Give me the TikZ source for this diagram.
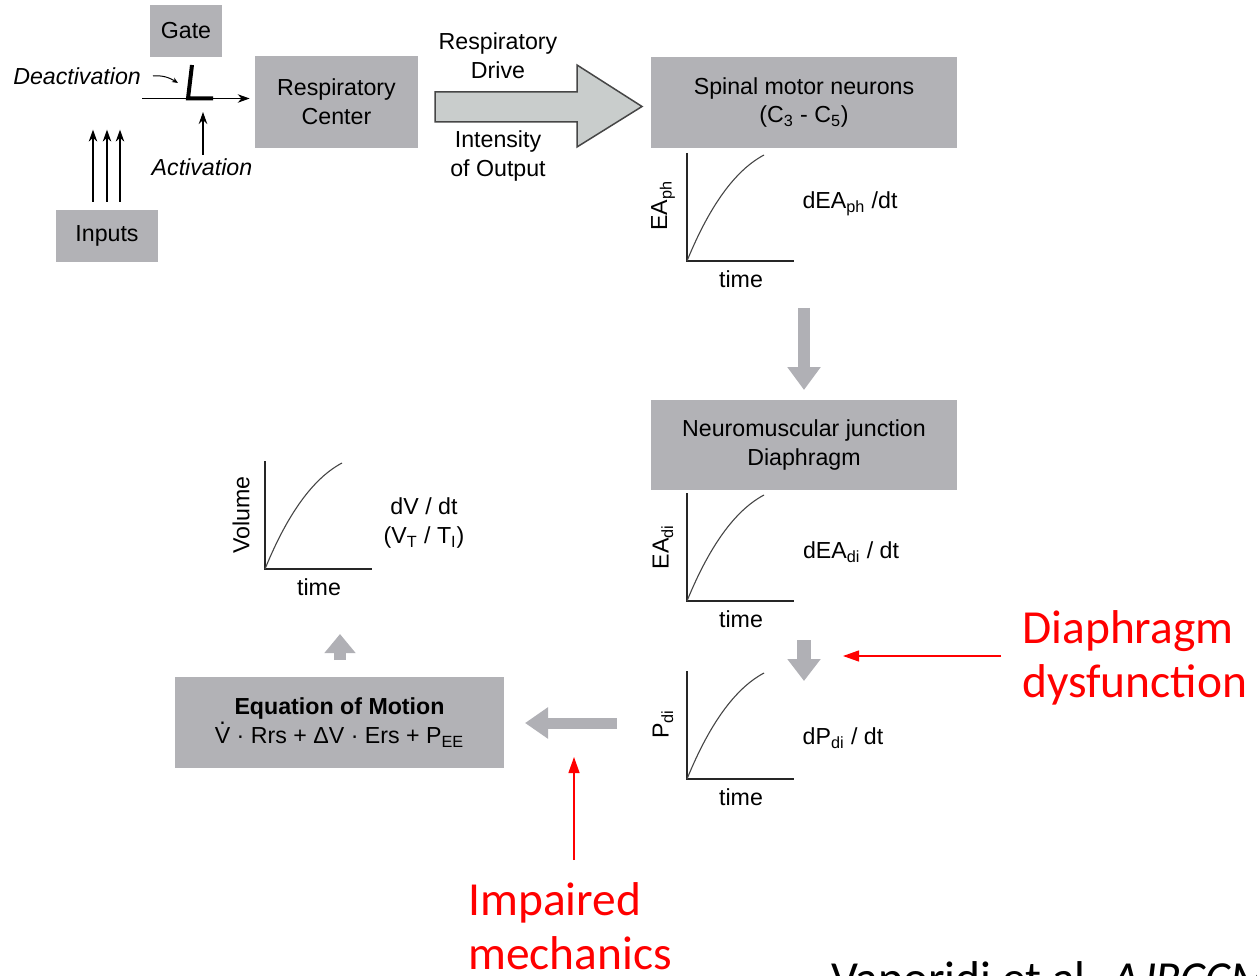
\documentclass[tikz,border=0pt]{standalone}
\usepackage{fontspec}
\setmainfont{Liberation Sans}
\newfontfamily\calibri{Carlito}
\usetikzlibrary{arrows.meta}
\definecolor{boxgray}{RGB}{178,178,182}
\definecolor{arrowgray}{RGB}{176,176,181}
\definecolor{drivefill}{RGB}{201,205,204}
\definecolor{inkgray}{RGB}{70,70,70}
\newcommand{\Vdot}{\ooalign{V\cr\hidewidth\raisebox{0.8em}{.}\hidewidth\cr}}
\begin{document}
\begin{tikzpicture}[x=0.02cm,y=-0.02cm,
  every node/.style={font=\fontsize{13.2}{16.4}\selectfont},
  grayblock/.style={fill=boxgray, inner sep=0pt, align=center},
  note/.style={align=center, inner sep=1pt},
  axis/.style={line width=0.025cm, draw=black!85},
  curve/.style={line width=0.022cm, draw=inkgray},
  thinarrow/.style={-{Stealth[length=0.24cm,width=0.17cm]}, line width=0.022cm},
  blockarrow/.style={draw=arrowgray, line width=0.24cm, -{Triangle[length=0.46cm,width=0.64cm]}},
  redarrow/.style={draw=red, line width=0.025cm, -{Triangle[length=0.32cm,width=0.22cm]}},
  redlabel/.style={text=red, align=left, font=\calibri\fontsize{27}{31}\selectfont, inner sep=0pt}]
\useasboundingbox (0,0) rectangle (1257,976);

% boxes
\node[grayblock, minimum width=1.44cm, minimum height=1.04cm] (gate) at (186,31) {Gate};
\node[grayblock, minimum width=2.04cm, minimum height=1.04cm] (inp) at (107,236) {Inputs};
\node[grayblock, minimum width=3.26cm, minimum height=1.84cm] (rc) at (336.5,102) {Respiratory\\Center};
\node[grayblock, minimum width=6.12cm, minimum height=1.82cm] (smn) at (804,102.5) {Spinal motor neurons\\(C\textsubscript{3} - C\textsubscript{5})};
\node[grayblock, minimum width=6.12cm, minimum height=1.80cm] (nmj) at (804,445) {Neuromuscular junction\\Diaphragm};
\node[grayblock, minimum width=6.58cm, minimum height=1.82cm] (eom) at (339.5,722.5) {\textbf{Equation of Motion}\\\Vdot{} · Rrs + ΔV · Ers + P\textsubscript{EE}};

% gate
\node[note, anchor=east, font=\itshape\fontsize{13.2}{16.4}\selectfont] (deact) at (143,76) {Deactivation};
\node[note, font=\itshape\fontsize{13.2}{16.4}\selectfont] (act) at (202,167) {Activation};
\coordinate (gin) at (142,98.5);
\coordinate (actfoot) at (203,155);
\coordinate (acttip) at (203,112);
\draw[line width=0.08cm] (192,65) -- (188,98.5) -- (213,98.5);
\draw[thinarrow, shorten >=0.1cm] (gin) -- (rc.west |- gin);
\draw[thinarrow] (actfoot) -- (acttip);
\draw[-{Stealth[length=0.12cm,width=0.1cm]}, line width=0.02cm]
  ([xshift=0.2cm]deact.east) .. controls (163,75) and (170,78) .. (178,83);
\foreach \dx in {-14,0,13}
  \draw[thinarrow] ([xshift=\dx*0.02cm, yshift=0.16cm]inp.north) -- ++(0,-72);

% respiratory drive
\draw[fill=drivefill, draw=inkgray, line width=0.03cm]
  (435,92) -- (577,92) -- (577,65) -- (642,106.5) -- (577,147) -- (577,122) -- (435,122) -- cycle;
\node[note] (drive) at (498,55.5) {Respiratory\\Drive};
\node[note] (intens) at (498,156) {Intensity\\of Output};

% graphs
\foreach \cx/\cy/\nm in {687/261/ph, 687/601/di, 687/779/pdi, 265/569/vol} {
  \coordinate (o\nm) at (\cx,\cy);
  \draw[axis] (\cx,\cy-108) -- (o\nm) -- (\cx+107,\cy);
  \draw[curve] (o\nm) .. controls (\cx+18,\cy-44) and (\cx+43,\cy-88) .. (\cx+77,\cy-106);
  \node (t\nm) at (\cx+54,\cy+18) {time};
}
\node[rotate=90] (yph) at (663,206) {EA\textsubscript{ph}};
\node[rotate=90] (ydi) at (663,547) {EA\textsubscript{di}};
\node[rotate=90] (ypdi) at (663,724) {P\textsubscript{di}};
\node[rotate=90] (yvol) at (241,515) {Volume};
\node (rph) at (850,204) {dEA\textsubscript{ph} /dt};
\node (rdi) at (851,552) {dEA\textsubscript{di} / dt};
\node (rpdi) at (843,738) {dP\textsubscript{di} / dt};
\node[align=center] (rvol) at (424,523) {dV / dt\\(V\textsubscript{T} / T\textsubscript{I})};

% flow arrows
\coordinate (a1s) at (804,308); \coordinate (a1e) at (804,390);
\coordinate (a2s) at (804,640); \coordinate (a2e) at (804,681);
\coordinate (a3s) at (617,723); \coordinate (a3e) at (525,723);
\coordinate (a4s) at (340,660); \coordinate (a4e) at (340,634);
\draw[blockarrow] (a1s) -- (a1e);
\draw[blockarrow, line width=0.27cm, -{Triangle[length=0.44cm,width=0.64cm]}] (a2s) -- (a2e);
\draw[blockarrow, line width=0.22cm, -{Triangle[length=0.46cm,width=0.60cm]}] (a3s) -- (a3e);
\draw[blockarrow, line width=0.24cm, -{Triangle[length=0.38cm,width=0.60cm]}] (a4s) -- (a4e);

% annotations
\node[redlabel, anchor=north west] (dys) at (1022,610) {Diaphragm\\dysfunction};
\node[redlabel, anchor=north west] (imp) at (468,882) {Impaired\\mechanics};
\coordinate (dystip) at (843,656);
\coordinate (imptip) at (574,757);
\draw[redarrow] (1001,656) -- (dystip);
\draw[redarrow] (574,860) -- (imptip);
\node[anchor=base west, inner sep=0pt, font=\calibri\fontsize{27}{31}\selectfont] (cite) at (831,994) {Vaporidi et al. \textit{AJRCCM}};
\end{tikzpicture}
\end{document}
